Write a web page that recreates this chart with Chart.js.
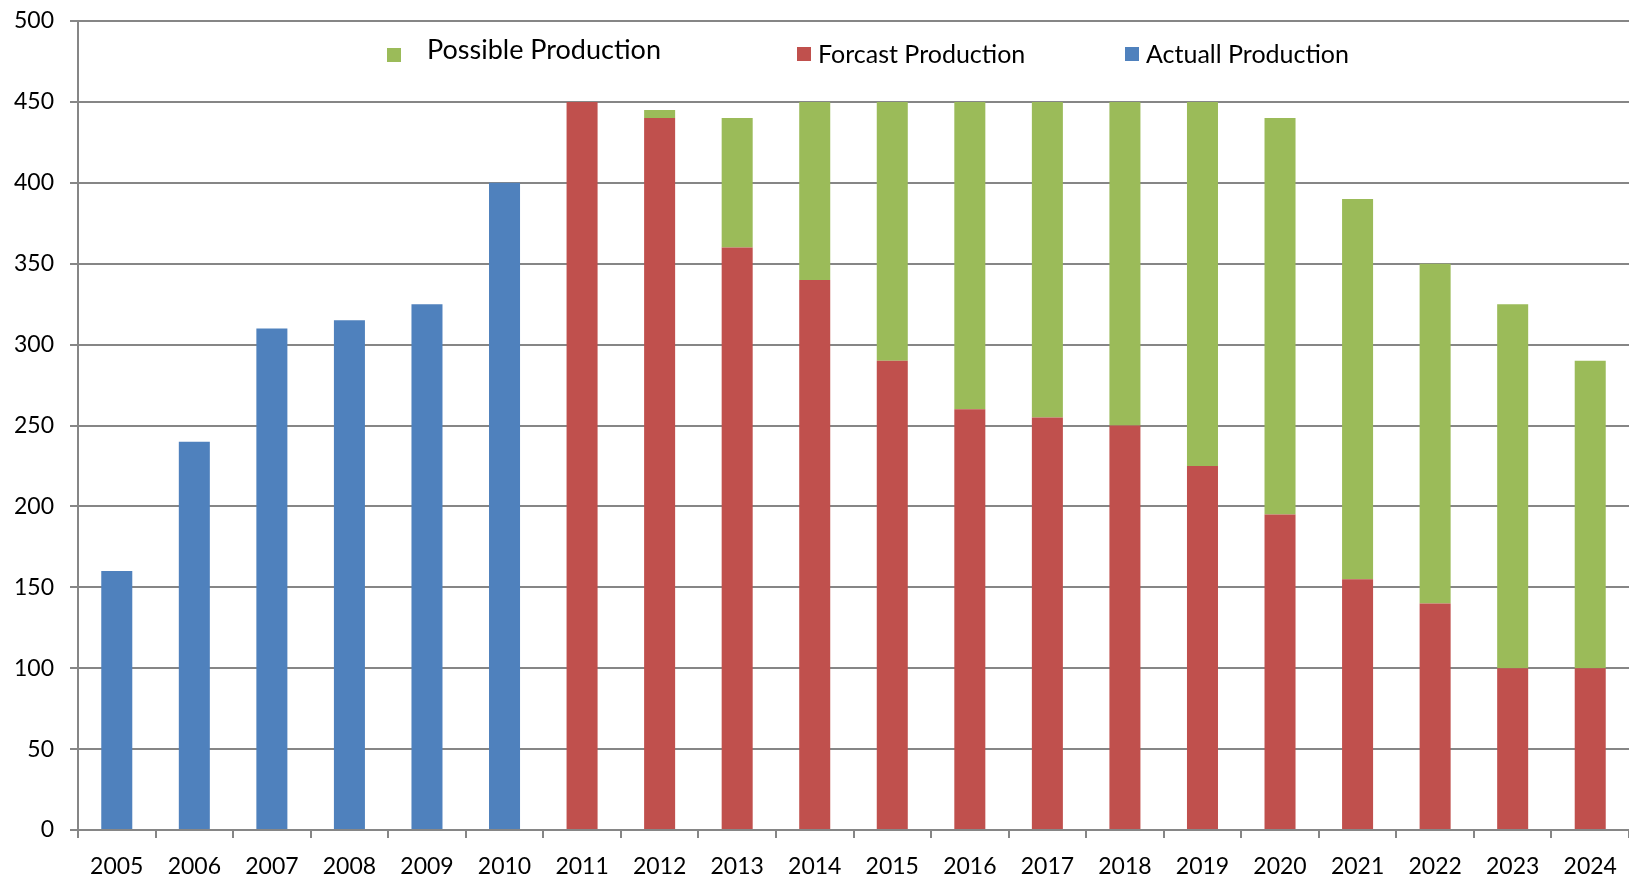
<!DOCTYPE html>
<html>
<head>
  <title>Production</title>
  <script src="https://cdn.jsdelivr.net/npm/chart.js@4.4.0/dist/chart.umd.min.js"></script>
  <style>
    html, body { margin: 0; padding: 0; background: #fff; }
    #wrap { width: 1629px; height: 878px; }
  </style>
</head>
<body>
  <div id="wrap"><canvas id="prodChart"></canvas></div>
  <script>
    var years = ['2005', '2006', '2007', '2008', '2009', '2010', '2011', '2012', '2013', '2014',
                 '2015', '2016', '2017', '2018', '2019', '2020', '2021', '2022', '2023', '2024'];
    // bottom segments
    var actual = [160, 240, 310, 315, 325, 400, null, null, null, null,
                  null, null, null, null, null, null, null, null, null, null];
    var forecast = [null, null, null, null, null, null, 450, 440, 360, 340,
                    290, 260, 255, 250, 225, 195, 155, 140, 100, 100];
    // extra on top of forecast
    var possible = [null, null, null, null, null, null, null, 5, 80, 110,
                    160, 190, 195, 200, 225, 245, 235, 210, 225, 190];

    var FONT = 'Lato';
    var GRID = '#868686';

    // legend drawn inside the plot, like the spreadsheet original
    var legendSpots = [
      { ds: 2, x: 387, y: 48, tx: 427, ty: 50, size: 27 },
      { ds: 1, x: 797, y: 47, tx: 818, ty: 55, size: 25 },
      { ds: 0, x: 1125, y: 47, tx: 1146, ty: 55, size: 25 }
    ];

    var innerLegend = {
      id: 'innerLegend',
      afterDraw: function(chart) {
        var c = chart.ctx;
        c.save();
        c.textBaseline = 'middle';
        legendSpots.forEach(function(s) {
          var ds = chart.data.datasets[s.ds];
          c.fillStyle = ds.backgroundColor;
          c.fillRect(s.x, s.y, 14, 14);
          c.fillStyle = '#000';
          c.font = s.size + 'px ' + FONT;
          c.fillText(ds.label, s.tx, s.ty);
        });
        c.restore();
      }
    };

    var ctx = document.getElementById('prodChart').getContext('2d');
    var prodChart = new Chart(ctx, {
      type: 'bar',
      data: {
        labels: years,
        datasets: [
          { label: 'Actuall Production', data: actual, backgroundColor: '#4F81BD' },
          { label: 'Forcast Production', data: forecast, backgroundColor: '#C0504D' },
          { label: 'Possible Production', data: possible, backgroundColor: '#9BBB59' }
        ]
      },
      options: {
        responsive: true,
        maintainAspectRatio: false,
        animation: false,
        devicePixelRatio: 1,
        datasets: { bar: { barPercentage: 0.4, categoryPercentage: 1.0 } },
        layout: { padding: { top: 21, right: 0, left: 0, bottom: 0 } },
        plugins: {
          legend: { display: false },
          tooltip: { enabled: false }
        },
        scales: {
          x: {
            stacked: true,
            grid: { offset: true, drawOnChartArea: false, tickLength: 8, color: GRID, lineWidth: 2 },
            border: { color: GRID, width: 2 },
            ticks: { color: '#000', font: { family: FONT, size: 23 }, padding: 15, maxRotation: 0, autoSkip: false },
            afterFit: function(s) { s.height = 48; s.paddingLeft = 0; s.paddingRight = 0; }
          },
          y: {
            stacked: true,
            min: 0,
            max: 500,
            ticks: { stepSize: 50, color: '#000', font: { family: FONT, size: 23 }, padding: 16 },
            grid: { color: GRID, lineWidth: 2, tickLength: 8 },
            border: { color: GRID, width: 2 },
            afterFit: function(s) { s.width = 78; s.paddingTop = 0; s.paddingBottom = 0; }
          }
        }
      },
      plugins: [innerLegend]
    });
  </script>
</body>
</html>
